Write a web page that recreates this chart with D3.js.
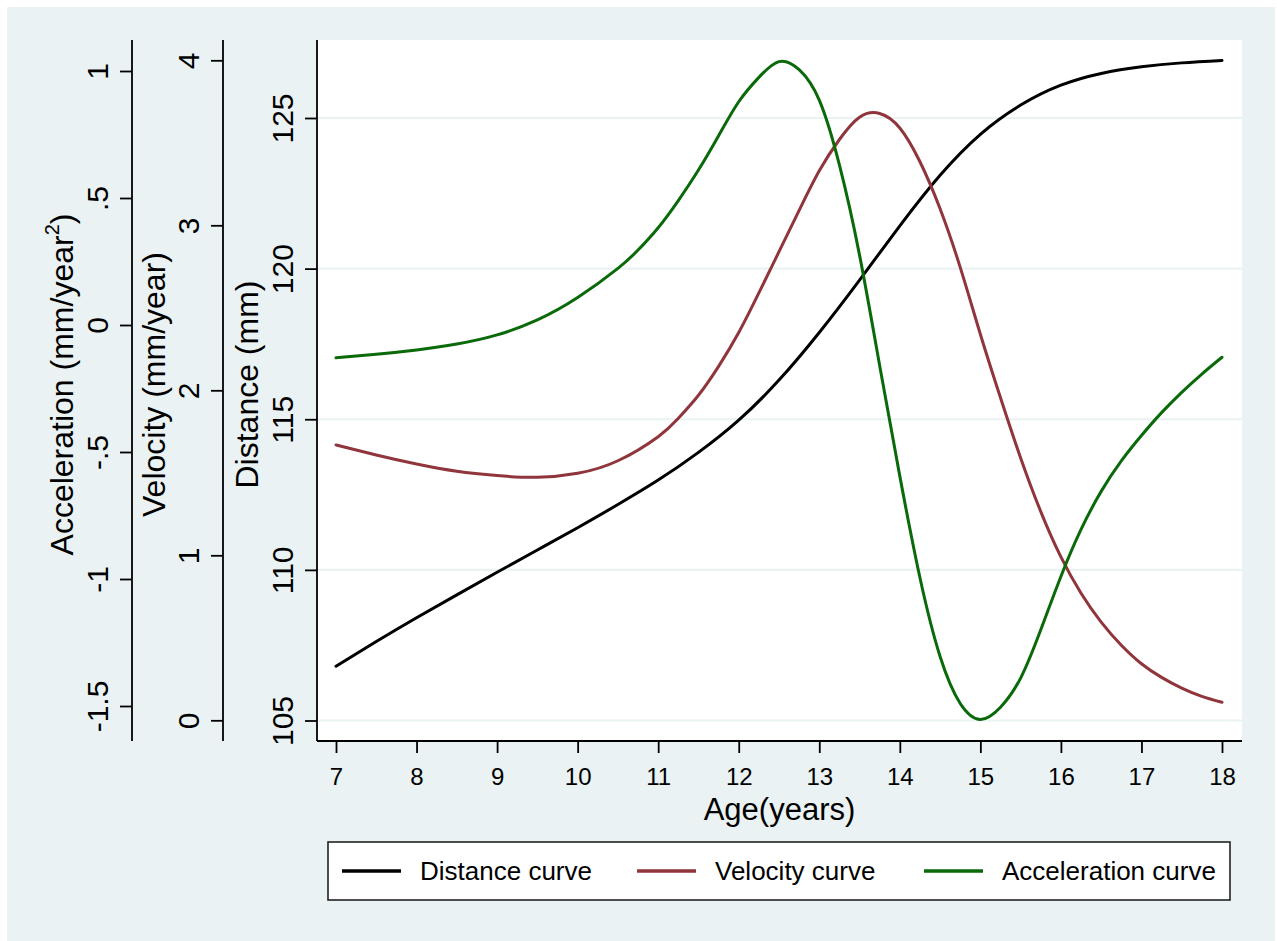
<!DOCTYPE html>
<html>
<head>
<meta charset="utf-8">
<script src="https://cdn.jsdelivr.net/npm/d3@7"></script>
<style>
  body { margin: 0; background: #ffffff; }
</style>
</head>
<body>
<svg id="chart" width="1277" height="941"></svg>
<script>
// Growth curves: distance, velocity and acceleration by age
const distAge = [7, 7.5, 8, 8.5, 9, 9.5, 10, 10.5, 11, 11.5, 12, 12.5, 13, 13.5, 14, 14.5, 15, 15.5, 16, 16.5, 17, 17.5, 18];
const distVal = [106.8, 107.62, 108.41, 109.17, 109.92, 110.66, 111.4, 112.17, 112.98, 113.9, 114.97, 116.3, 117.88, 119.62, 121.42, 123.1, 124.46, 125.43, 126.09, 126.48, 126.7, 126.83, 126.91];

const velAge = [7, 7.5, 8, 8.5, 9, 9.5, 10, 10.5, 11, 11.25, 11.5, 11.75, 12, 12.25, 12.5, 12.75, 13, 13.25, 13.5, 13.75, 14, 14.25, 14.5, 14.75, 15, 15.25, 15.5, 15.75, 16, 16.25, 16.5, 16.75, 17, 17.25, 17.5, 17.75, 18];
const velVal = [1.669, 1.608, 1.553, 1.509, 1.483, 1.473, 1.497, 1.573, 1.719, 1.83, 1.97, 2.145, 2.35, 2.59, 2.84, 3.09, 3.33, 3.52, 3.655, 3.678, 3.59, 3.385, 3.10, 2.745, 2.34, 1.955, 1.59, 1.265, 0.99, 0.77, 0.595, 0.455, 0.343, 0.26, 0.195, 0.145, 0.109];

const accAge = [7, 7.5, 8, 8.5, 9, 9.5, 10, 10.5, 10.75, 11, 11.25, 11.5, 11.75, 12, 12.25, 12.5, 12.75, 13, 13.25, 13.5, 13.75, 14, 14.25, 14.5, 14.75, 15, 15.25, 15.5, 15.75, 16, 16.25, 16.5, 16.75, 17, 17.25, 17.5, 17.75, 18];
const accVal = [-0.129, -0.115, -0.098, -0.075, -0.039, 0.020, 0.108, 0.223, 0.295, 0.383, 0.49, 0.610, 0.745, 0.879, 0.975, 1.037, 1.005, 0.885, 0.63, 0.275, -0.16, -0.595, -0.995, -1.305, -1.49, -1.553, -1.505, -1.39, -1.20, -0.99, -0.805, -0.655, -0.535, -0.435, -0.345, -0.265, -0.193, -0.127];

// Axis ticks and their labels
const ageTicks = [7, 8, 9, 10, 11, 12, 13, 14, 15, 16, 17, 18];
const ageLabels = ["7", "8", "9", "10", "11", "12", "13", "14", "15", "16", "17", "18"];
const distTicks = [105, 110, 115, 120, 125];
const distLabels = ["105", "110", "115", "120", "125"];
const velTicks = [0, 1, 2, 3, 4];
const velLabels = ["0", "1", "2", "3", "4"];
const accTicks = [-1.5, -1, -0.5, 0, 0.5, 1];
const accLabels = ["-1.5", "-1", "-.5", "0", ".5", "1"];

// Legend entries
const seriesNames = ["Distance curve", "Velocity curve", "Acceleration curve"];
const seriesColors = ["#000000", "#90353b", "#0a6a0a"];

const FONT = "'Liberation Sans', Arial, Helvetica, sans-serif";
const BG = "#eaf2f3";

const svg = d3.select("#chart");

const plot = { left: 317, right: 1242, top: 40, bottom: 741 };

// Graph region and plot region
svg.append("rect").attr("x", 7).attr("y", 7).attr("width", 1268).attr("height", 934).attr("fill", BG);
svg.append("rect").attr("x", plot.left).attr("y", plot.top)
  .attr("width", plot.right - plot.left).attr("height", plot.bottom - plot.top).attr("fill", "#ffffff");

// Scales
const x = d3.scaleLinear().domain([7, 18]).range([336, 1222]);
const yDist = d3.scaleLinear().domain([105, 125]).range([720.5, 118]);
const yVel = d3.scaleLinear().domain([0, 4]).range([720.3, 60.3]);
const yAcc = d3.scaleLinear().domain([-1.5, 1]).range([706, 71]);

// Horizontal gridlines at distance ticks
svg.append("g").selectAll("line").data(distTicks).join("line")
  .attr("x1", plot.left + 1).attr("x2", plot.right)
  .attr("y1", d => yDist(d)).attr("y2", d => yDist(d))
  .attr("stroke", BG).attr("stroke-width", 2.2);

// Vertical axes with rotated tick labels
function leftAxis(scale, ticks, labels, xPos) {
  const g = svg.append("g").attr("transform", `translate(${xPos},0)`)
    .call(d3.axisLeft(scale).tickValues(ticks).tickSize(12).tickFormat((d, i) => labels[i]));
  g.attr("font-family", FONT).attr("font-size", 30);
  g.select(".domain").remove();
  g.append("line").attr("x1", 0).attr("x2", 0).attr("y1", plot.top).attr("y2", plot.bottom)
    .attr("stroke", "#000").attr("stroke-width", 1.8);
  g.selectAll(".tick line").attr("stroke", "#000").attr("stroke-width", 1.8);
  g.selectAll(".tick text")
    .attr("x", 0).attr("y", -24).attr("dy", 0)
    .attr("transform", "rotate(-90)")
    .attr("text-anchor", "middle")
    .attr("fill", "#000");
  return g;
}
leftAxis(yAcc, accTicks, accLabels, 132);
leftAxis(yVel, velTicks, velLabels, 223);
leftAxis(yDist, distTicks, distLabels, plot.left);

// Bottom axis
const gx = svg.append("g").attr("transform", `translate(0,${plot.bottom})`)
  .call(d3.axisBottom(x).tickValues(ageTicks).tickSize(12).tickFormat((d, i) => ageLabels[i]));
gx.attr("font-family", FONT).attr("font-size", 24);
gx.select(".domain").remove();
gx.append("line").attr("x1", plot.left).attr("x2", plot.right).attr("y1", 0).attr("y2", 0)
  .attr("stroke", "#000").attr("stroke-width", 1.8);
gx.selectAll(".tick line").attr("stroke", "#000").attr("stroke-width", 1.8);
gx.selectAll(".tick text").attr("y", 44).attr("dy", 0).attr("fill", "#000");

// Axis titles
function vTitle(xBase, parts) {
  const yc = (plot.top + plot.bottom) / 2 - 6;
  const t = svg.append("text")
    .attr("x", xBase).attr("y", yc)
    .attr("transform", `rotate(-90,${xBase},${yc})`)
    .attr("text-anchor", "middle")
    .attr("font-family", FONT).attr("font-size", 32).attr("fill", "#000");
  parts.forEach(p => {
    const s = t.append("tspan").text(p.text);
    if (p.sup) s.attr("font-size", 20).attr("dy", -14);
    if (p.after) s.attr("dy", 14);
  });
}
vTitle(73, [{ text: "Acceleration (mm/year" }, { text: "2", sup: true }, { text: ")", after: true }]);
vTitle(165, [{ text: "Velocity (mm/year)" }]);
vTitle(258, [{ text: "Distance (mm)" }]);

svg.append("text")
  .attr("x", (plot.left + plot.right) / 2).attr("y", 820)
  .attr("text-anchor", "middle")
  .attr("font-family", FONT).attr("font-size", 31).attr("fill", "#000")
  .text("Age(years)");

// Curves
const series = [
  { age: distAge, val: distVal, y: yDist },
  { age: velAge, val: velVal, y: yVel },
  { age: accAge, val: accVal, y: yAcc }
];
series.forEach((s, i) => {
  const pts = s.age.map((a, k) => [a, s.val[k]]);
  const line = d3.line().x(d => x(d[0])).y(d => s.y(d[1])).curve(d3.curveNatural);
  svg.append("path").datum(pts)
    .attr("d", line)
    .attr("fill", "none")
    .attr("stroke", seriesColors[i])
    .attr("stroke-width", 3)
    .attr("stroke-linejoin", "round")
    .attr("stroke-linecap", "round");
});

// Legend
const legend = svg.append("g");
legend.append("rect").attr("x", 328).attr("y", 842).attr("width", 902).attr("height", 58)
  .attr("fill", "#fff").attr("stroke", "#222").attr("stroke-width", 1.6);
const keyX = [342, 637, 924];
seriesNames.forEach((name, i) => {
  legend.append("line")
    .attr("x1", keyX[i]).attr("x2", keyX[i] + 59)
    .attr("y1", 871).attr("y2", 871)
    .attr("stroke", seriesColors[i]).attr("stroke-width", 3.5);
  legend.append("text")
    .attr("x", keyX[i] + 78).attr("y", 880)
    .attr("font-family", FONT).attr("font-size", 26).attr("fill", "#000")
    .text(name);
});
</script>
</body>
</html>
